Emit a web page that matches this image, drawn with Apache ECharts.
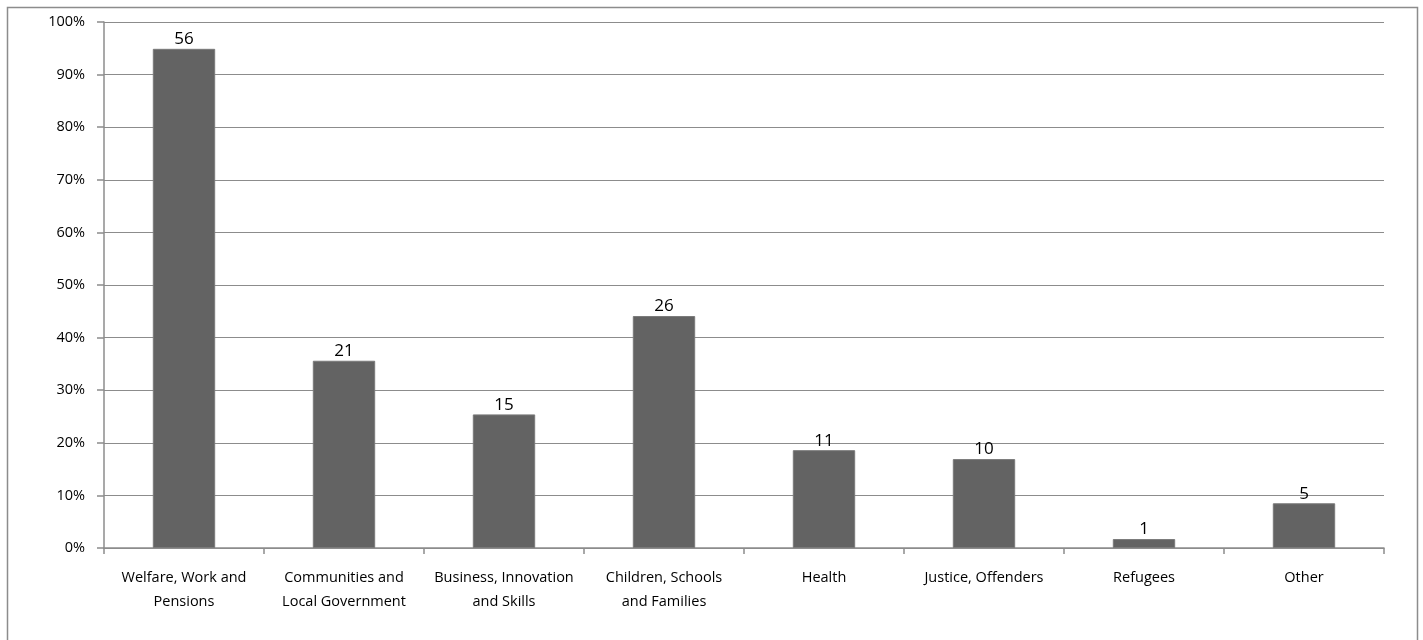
<!DOCTYPE html>
<html>
<head>
<meta charset="utf-8">
<script src="https://cdn.jsdelivr.net/npm/echarts@6/dist/echarts.min.js"></script>
<style>
  html, body { margin: 0; padding: 0; background: #fff; }
  #chart { width: 1423px; height: 640px; }
</style>
</head>
<body>
<div id="chart"></div>
<script>
const categories = [
  'Welfare, Work and\nPensions',
  'Communities and\nLocal Government',
  'Business, Innovation\nand Skills',
  'Children, Schools\nand Families',
  'Health',
  'Justice, Offenders',
  'Refugees',
  'Other'
];
// bar heights (percent)
const percents = [94.9, 35.6, 25.4, 44.1, 18.6, 16.9, 1.7, 8.5];
// counts shown above each bar
const counts = [56, 21, 15, 26, 11, 10, 1, 5];

const font = '"Open Sans", "Liberation Sans", sans-serif';
const axisGrey = '#8c8c8c';

const chart = echarts.init(document.getElementById('chart'), null, { renderer: 'canvas' });

chart.setOption({
  animation: false,
  graphic: [{
    type: 'rect',
    shape: { x: 7.5, y: 7.5, width: 1410, height: 660 },
    style: { fill: 'none', stroke: '#8c8c8c', lineWidth: 1.5 },
    silent: true
  }],
  grid: { left: 104, right: 39, top: 22, bottom: 92 },
  xAxis: {
    type: 'category',
    data: categories,
    axisLine: { lineStyle: { color: axisGrey, width: 1.5 } },
    axisTick: { show: true, length: 6, alignWithLabel: false, lineStyle: { color: axisGrey, width: 1.5 } },
    axisLabel: {
      interval: 0,
      color: '#000',
      fontFamily: font,
      fontSize: 14.5,
      lineHeight: 24,
      margin: 18
    }
  },
  yAxis: {
    type: 'value',
    min: 0,
    max: 100,
    interval: 10,
    axisLine: { show: true, lineStyle: { color: axisGrey, width: 1.5 } },
    axisTick: { show: true, length: 7, lineStyle: { color: axisGrey, width: 1.5 } },
    splitLine: { lineStyle: { color: axisGrey, width: 1.2 } },
    axisLabel: {
      color: '#000',
      fontFamily: font,
      fontSize: 14.5,
      margin: 19,
      formatter: '{value}%'
    }
  },
  series: [{
    type: 'bar',
    data: percents,
    barWidth: '39%',
    itemStyle: { color: '#636363', borderColor: '#7a7a7a', borderWidth: 1 },
    label: {
      show: true,
      position: 'top',
      distance: 1,
      color: '#000',
      fontFamily: font,
      fontSize: 17,
      formatter: p => counts[p.dataIndex]
    }
  }]
});
</script>
</body>
</html>
